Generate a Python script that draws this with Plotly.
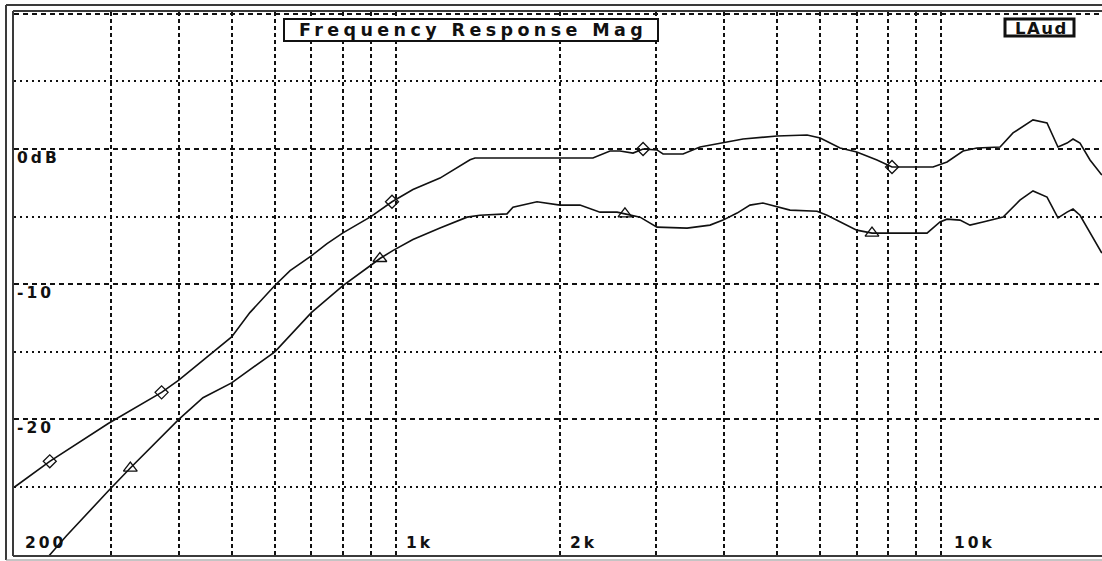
import math
import plotly.graph_objects as go

# ---- data ----
upper_freq = [200, 232, 297, 372, 400, 462, 500, 540, 600, 640, 700, 748, 800, 900, 984,
              1075, 1205, 1368, 1397, 2298, 2470, 2576, 2722, 2840, 3012, 3090, 3362, 3612,
              3981, 4332, 5000, 5676, 6000, 6524, 7000, 7625, 8124, 8875, 9661, 10248, 10966,
              11632, 12820, 13541, 14733, 15631, 16370, 17008, 17444, 17966, 18742, 19700]
upper_db = [-25.0, -23.1, -20.3, -18.0, -17.1, -15.0, -13.9, -12.1, -10.1, -9.0, -7.9, -7.0,
            -6.2, -5.0, -3.9, -3.0, -2.15, -0.8, -0.67, -0.67, -0.15, -0.15, -0.3, 0.0, -0.07,
            -0.37, -0.37, 0.15, 0.44, 0.74, 0.96, 1.04, 0.81, 0.07, -0.22, -0.81, -1.33, -1.33,
            -1.33, -0.96, -0.15, 0.07, 0.15, 1.19, 2.15, 1.93, 0.15, 0.44, 0.74, 0.44, -0.81, -1.93]

lower_freq = [230, 249, 297, 326, 400, 443, 500, 600, 700, 800, 900, 935, 989, 1075, 1205,
              1351, 1426, 1599, 1640, 1815, 2000, 2176, 2368, 2545, 2631, 2804, 3012, 3420,
              3768, 3981, 4224, 4460, 4711, 5000, 5282, 5920, 6176, 7000, 7466, 7722, 9418,
              9949, 10248, 10824, 11292, 11930, 12988, 13940, 14733, 15631, 16370, 17008,
              17444, 17966, 18742, 19700]
lower_db = [-30.2, -28.6, -25.3, -23.6, -20.0, -18.4, -17.3, -15.0, -12.1, -10.1, -8.6, -8.1,
            -7.5, -6.7, -5.85, -5.04, -4.9, -4.8, -4.3, -3.9, -4.15, -4.15, -4.67, -4.67, -4.8,
            -5.04, -5.78, -5.85, -5.63, -5.26, -4.74, -4.15, -4.0, -4.3, -4.52, -4.6, -4.9,
            -6.0, -6.22, -6.22, -6.22, -5.4, -5.19, -5.26, -5.63, -5.4, -5.04, -3.78, -3.1,
            -3.56, -5.1, -4.67, -4.44, -4.9, -6.22, -7.7]

diamond_freq = [232, 372, 984, 2840, 8124]
diamond_db = [-23.1, -18.0, -3.9, 0.0, -1.33]
triangle_freq = [326, 935, 2631, 7466]
triangle_db = [-23.6, -8.1, -4.8, -6.22]

grid_freqs = [300, 400, 500, 600, 700, 800, 900, 1000, 2000, 3000, 4000, 5000,
              6000, 7000, 8000, 9000, 10000]
y_label_text = ["0dB", "-10", "-20"]
y_label_vals = [0, -10, -20]
x_label_text = ["200", "1k", "2k", "10k"]
x_label_vals = [200, 1000, 2000, 10000]
x_label_shift = [8, 8, 8, 11]

title_text = "Frequency Response Mag"
tag_text = "LAud"

# ---- layout geometry ----
W, H = 1102, 561
ML, MR, MT, MB = 14, 0, 12, 6
PW, PH = W - ML - MR, H - MT - MB


def px(xp):
    return (xp - ML) / PW


def py(yp):
    return (H - MB - yp) / PH


FONT = "DejaVu Sans"
INK = "#111111"


def spaced(t, sp):
    return f'<span style="letter-spacing:{sp}px">{t}</span>'


fig = go.Figure()
fig.add_trace(go.Scatter(x=upper_freq, y=upper_db, mode="lines",
                         line=dict(color=INK, width=1.6), showlegend=False))
fig.add_trace(go.Scatter(x=lower_freq, y=lower_db, mode="lines",
                         line=dict(color=INK, width=1.6), showlegend=False))
fig.add_trace(go.Scatter(x=diamond_freq, y=diamond_db, mode="markers",
                         marker=dict(symbol="diamond-open", size=10, color=INK,
                                     line=dict(width=1.3, color=INK)), showlegend=False))
fig.add_trace(go.Scatter(x=triangle_freq, y=triangle_db, mode="markers",
                         marker=dict(symbol="triangle-up-open", size=12, color=INK,
                                     line=dict(width=1.3, color=INK)), showlegend=False))

x_lo = math.log10(2000) - (560 - ML) / 545.4
x_hi = math.log10(2000) + (W - 560) / 545.4
y_hi = (149 - MT) / 13.52
y_lo = (149 - (H - MB)) / 13.52

fig.update_xaxes(type="log", range=[x_lo, x_hi], tickmode="array", tickvals=grid_freqs,
                 showticklabels=False, ticks="", showgrid=True, gridcolor=INK, gridwidth=2,
                 griddash="4px,3px", zeroline=False, showline=False)
fig.update_yaxes(range=[y_lo, y_hi], tick0=0, dtick=10, showticklabels=False, ticks="",
                 showgrid=True, gridcolor=INK, gridwidth=2, griddash="5px,4px",
                 zeroline=False, showline=False,
                 minor=dict(dtick=5, tick0=0, showgrid=True, gridcolor=INK, gridwidth=2,
                            griddash="2px,4px"))

shapes = []
frame_dark = "#3a3a3a"
# inner frame (plot border)
shapes.append(dict(type="line", xref="paper", yref="paper", x0=px(13), x1=px(W + 5),
                   y0=py(11), y1=py(11), line=dict(color=frame_dark, width=2)))
shapes.append(dict(type="line", xref="paper", yref="paper", x0=px(13), x1=px(13),
                   y0=py(11), y1=py(556), line=dict(color=frame_dark, width=2)))
shapes.append(dict(type="line", xref="paper", yref="paper", x0=px(13), x1=px(W + 5),
                   y0=py(556), y1=py(556), line=dict(color=frame_dark, width=2)))
# outer frame
shapes.append(dict(type="line", xref="paper", yref="paper", x0=px(6), x1=px(W + 5),
                   y0=py(5), y1=py(5), line=dict(color=frame_dark, width=2)))
shapes.append(dict(type="line", xref="paper", yref="paper", x0=px(6), x1=px(6),
                   y0=py(5), y1=py(560), line=dict(color=frame_dark, width=2)))
shapes.append(dict(type="line", xref="paper", yref="paper", x0=px(6), x1=px(W + 5),
                   y0=py(560), y1=py(560), line=dict(color="#8a8a8a", width=1)))
# title box
shapes.append(dict(type="rect", xref="paper", yref="paper", x0=px(284), x1=px(658),
                   y0=py(41), y1=py(19), line=dict(color=INK, width=2),
                   fillcolor="white", layer="above"))
# tag box
shapes.append(dict(type="rect", xref="paper", yref="paper", x0=px(1005), x1=px(1074),
                   y0=py(36), y1=py(19), line=dict(color=INK, width=3),
                   fillcolor="white", layer="above"))

annotations = []
annotations.append(dict(text=spaced(title_text, 4.4), xref="paper", yref="paper",
                        x=px(473), y=py(30), xanchor="center", yanchor="middle",
                        showarrow=False, font=dict(family=FONT, size=17.5, color=INK,
                                                   weight="bold")))
annotations.append(dict(text=spaced(tag_text, 1.5), xref="paper", yref="paper",
                        x=px(1041), y=py(28), xanchor="center", yanchor="middle",
                        showarrow=False, font=dict(family=FONT, size=16.5, color=INK,
                                                   weight="bold")))
for t, v in zip(y_label_text, y_label_vals):
    annotations.append(dict(text=spaced(t, 3), xref="paper", yref="y", x=px(15), y=v,
                            yshift=-9, xanchor="left", yanchor="middle", showarrow=False,
                            font=dict(family=FONT, size=15.5, color=INK, weight="bold")))
for t, v, s in zip(x_label_text, x_label_vals, x_label_shift):
    annotations.append(dict(text=spaced(t, 3), xref="x", yref="paper", x=math.log10(v),
                            y=py(543), xshift=s, xanchor="left", yanchor="middle",
                            showarrow=False,
                            font=dict(family=FONT, size=15.5, color=INK, weight="bold")))

fig.update_layout(width=W, height=H, margin=dict(l=ML, r=MR, t=MT, b=MB, pad=0),
                  paper_bgcolor="white", plot_bgcolor="white", hovermode=False,
                  shapes=shapes, annotations=annotations, showlegend=False)

fig.write_html("out.html", config={"displayModeBar": False, "staticPlot": True},
               post_script="document.body.style.margin='0';document.body.style.overflow='hidden';")
